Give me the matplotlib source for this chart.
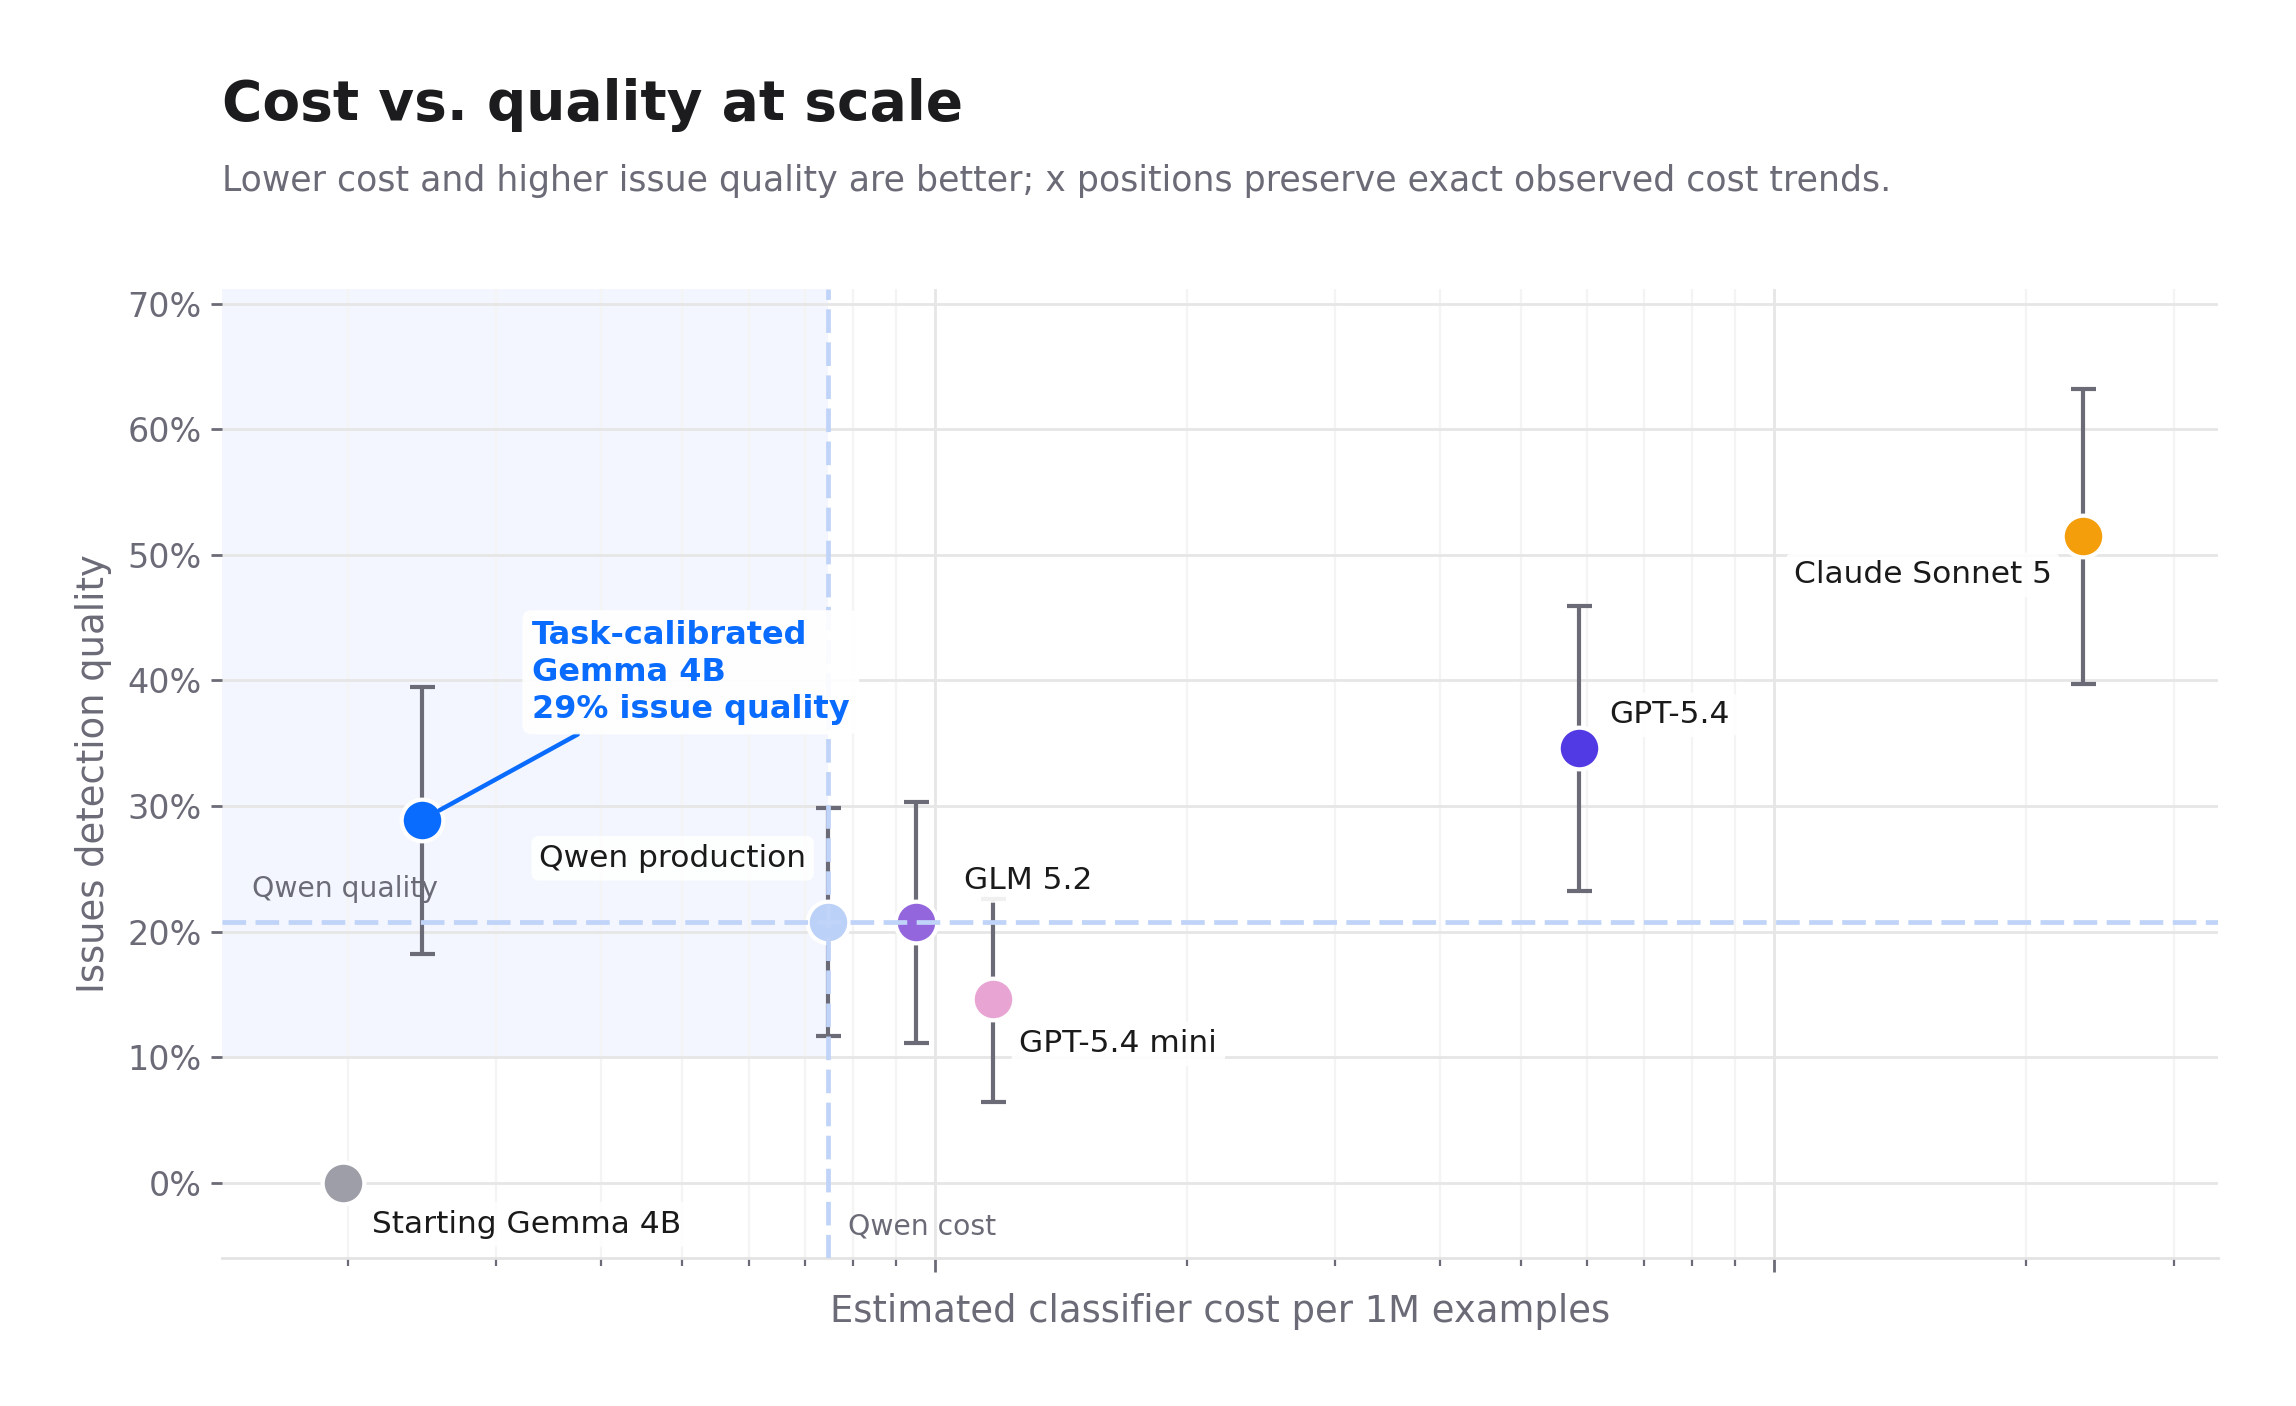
import matplotlib
matplotlib.use("Agg")
from matplotlib import pyplot as plt
from matplotlib.ticker import PercentFormatter, LogLocator, NullFormatter
import matplotlib.transforms as mtransforms

# Data (x = estimated cost per 1M examples, y = issue detection quality)
models = ["Starting Gemma 4B", "Task-calibrated Gemma 4B", "Qwen production",
          "GLM 5.2", "GPT-5.4 mini", "GPT-5.4", "Claude Sonnet 5"]
cost = [19.7, 24.5, 74.7, 95.1, 117.4, 585.5, 2335.0]
quality = [0.0, 0.289, 0.2075, 0.2075, 0.146, 0.346, 0.515]
err_low = [None, 0.182, 0.117, 0.111, 0.064, 0.232, 0.397]
err_high = [None, 0.395, 0.298, 0.303, 0.226, 0.459, 0.632]
colors = ["#9e9ea8", "#0a6cff", "#bcd1f7", "#9366dd", "#e8a5d3", "#5139e4", "#f59e0b"]

# label offsets in points (dx, dy, ha)
label_pos = {
    "Starting Gemma 4B": (10.5, -15, "left"),
    "Qwen production": (-8, 23, "right"),
    "GLM 5.2": (17, 15, "left"),
    "GPT-5.4 mini": (9.5, -16, "left"),
    "GPT-5.4": (11, 12, "left"),
    "Claude Sonnet 5": (-11, -14, "right"),
}

qwen_cost = cost[2]
qwen_quality = quality[2]

xmin, xmax = 14.16, 3386
ymin, ymax = -0.06, 0.712

gray = "#6b6b78"

fig = plt.figure(figsize=(11.48, 7.03), dpi=200)
ax = fig.add_axes([0.0969, 0.1052, 0.8691, 0.6896])

ax.set_xscale("log")
ax.set_xlim(xmin, xmax)
ax.set_ylim(ymin, ymax)

# shaded "better than Qwen on cost" region
ax.fill_between([xmin, qwen_cost], 0.10, ymax, color="#f3f6fe", zorder=0, linewidth=0)

# grid
ax.set_axisbelow(True)
ax.xaxis.set_major_locator(LogLocator(base=10))
ax.xaxis.set_minor_locator(LogLocator(base=10, subs=range(2, 10)))
ax.xaxis.set_major_formatter(NullFormatter())
ax.xaxis.set_minor_formatter(NullFormatter())
ax.grid(which="major", color="#e6e6e6", linewidth=1.0)
ax.grid(which="minor", axis="x", color="#f4f4f4", linewidth=0.8)

ax.set_yticks([0, 0.1, 0.2, 0.3, 0.4, 0.5, 0.6, 0.7])
ax.yaxis.set_major_formatter(PercentFormatter(1.0, decimals=0))
ax.tick_params(axis="y", labelsize=12, colors=gray, length=4, width=1)
ax.tick_params(axis="x", which="major", colors=gray, length=5, width=1)
ax.tick_params(axis="x", which="minor", colors=gray, length=3, width=0.8)

for s in ["top", "right", "left"]:
    ax.spines[s].set_visible(False)
ax.spines["bottom"].set_color("#e3e3e3")
ax.spines["bottom"].set_linewidth(1.0)

# Qwen reference lines
ax.axvline(qwen_cost, color="#c0d3f8", lw=1.7, ls=(0, (5, 2)), zorder=3.5)
ax.axhline(qwen_quality, color="#c0d3f8", lw=1.7, ls=(0, (5, 2)), zorder=3.5)

# points and error bars
for i, m in enumerate(models):
    if err_low[i] is not None:
        ax.errorbar(cost[i], quality[i],
                    yerr=[[quality[i] - err_low[i]], [err_high[i] - quality[i]]],
                    fmt="none", ecolor=gray, elinewidth=1.5, capsize=4.5,
                    capthick=1.5, zorder=2)
    ax.plot(cost[i], quality[i], "o", ms=15, color=colors[i],
            mec="white", mew=1.5, zorder=3)

box = dict(boxstyle="round,pad=0.25", facecolor="white", edgecolor="none", alpha=0.9)
for m, (dx, dy, ha) in label_pos.items():
    i = models.index(m)
    ax.annotate(m, (cost[i], quality[i]), xytext=(dx, dy), textcoords="offset points",
                ha=ha, va="center", fontsize=11.25, color="#1a1a1a", bbox=box, zorder=5)

# highlighted annotation
ax.annotate("Task-calibrated\nGemma 4B\n29% issue quality", (cost[1], quality[1]),
            xytext=(39.5, 72), textcoords="offset points", ha="left", va="top",
            fontsize=11.5, fontweight="bold", color="#0a6cff", linespacing=1.25,
            bbox=dict(boxstyle="round,pad=0.3", facecolor="white", edgecolor="none", alpha=0.92),
            arrowprops=dict(arrowstyle="-", color="#0a6cff", lw=1.6, shrinkA=0, shrinkB=7),
            zorder=6)

# reference line labels
trans = mtransforms.blended_transform_factory(ax.transAxes, ax.transData)
ax.text(0.0147, qwen_quality + 0.026, "Qwen quality", transform=trans, fontsize=10.2,
        color=gray, va="center", ha="left")
ax.annotate("Qwen cost", (qwen_cost, -0.035), xytext=(7, 0), textcoords="offset points",
            fontsize=10.2, color=gray, va="center", ha="left")

ax.set_ylabel("Issues detection quality", fontsize=13.3, color=gray, labelpad=5.5)
ax.set_xlabel("Estimated classifier cost per 1M examples", fontsize=13.3, color=gray, labelpad=4)

fig.text(0.0969, 0.915, "Cost vs. quality at scale", fontsize=19.8, fontweight="bold",
         color="#1c1c1e", va="baseline")
fig.text(0.0969, 0.864, "Lower cost and higher issue quality are better; x positions preserve exact observed cost trends.",
         fontsize=12.5, color=gray, va="baseline")

fig.savefig("out.png", dpi=200)
